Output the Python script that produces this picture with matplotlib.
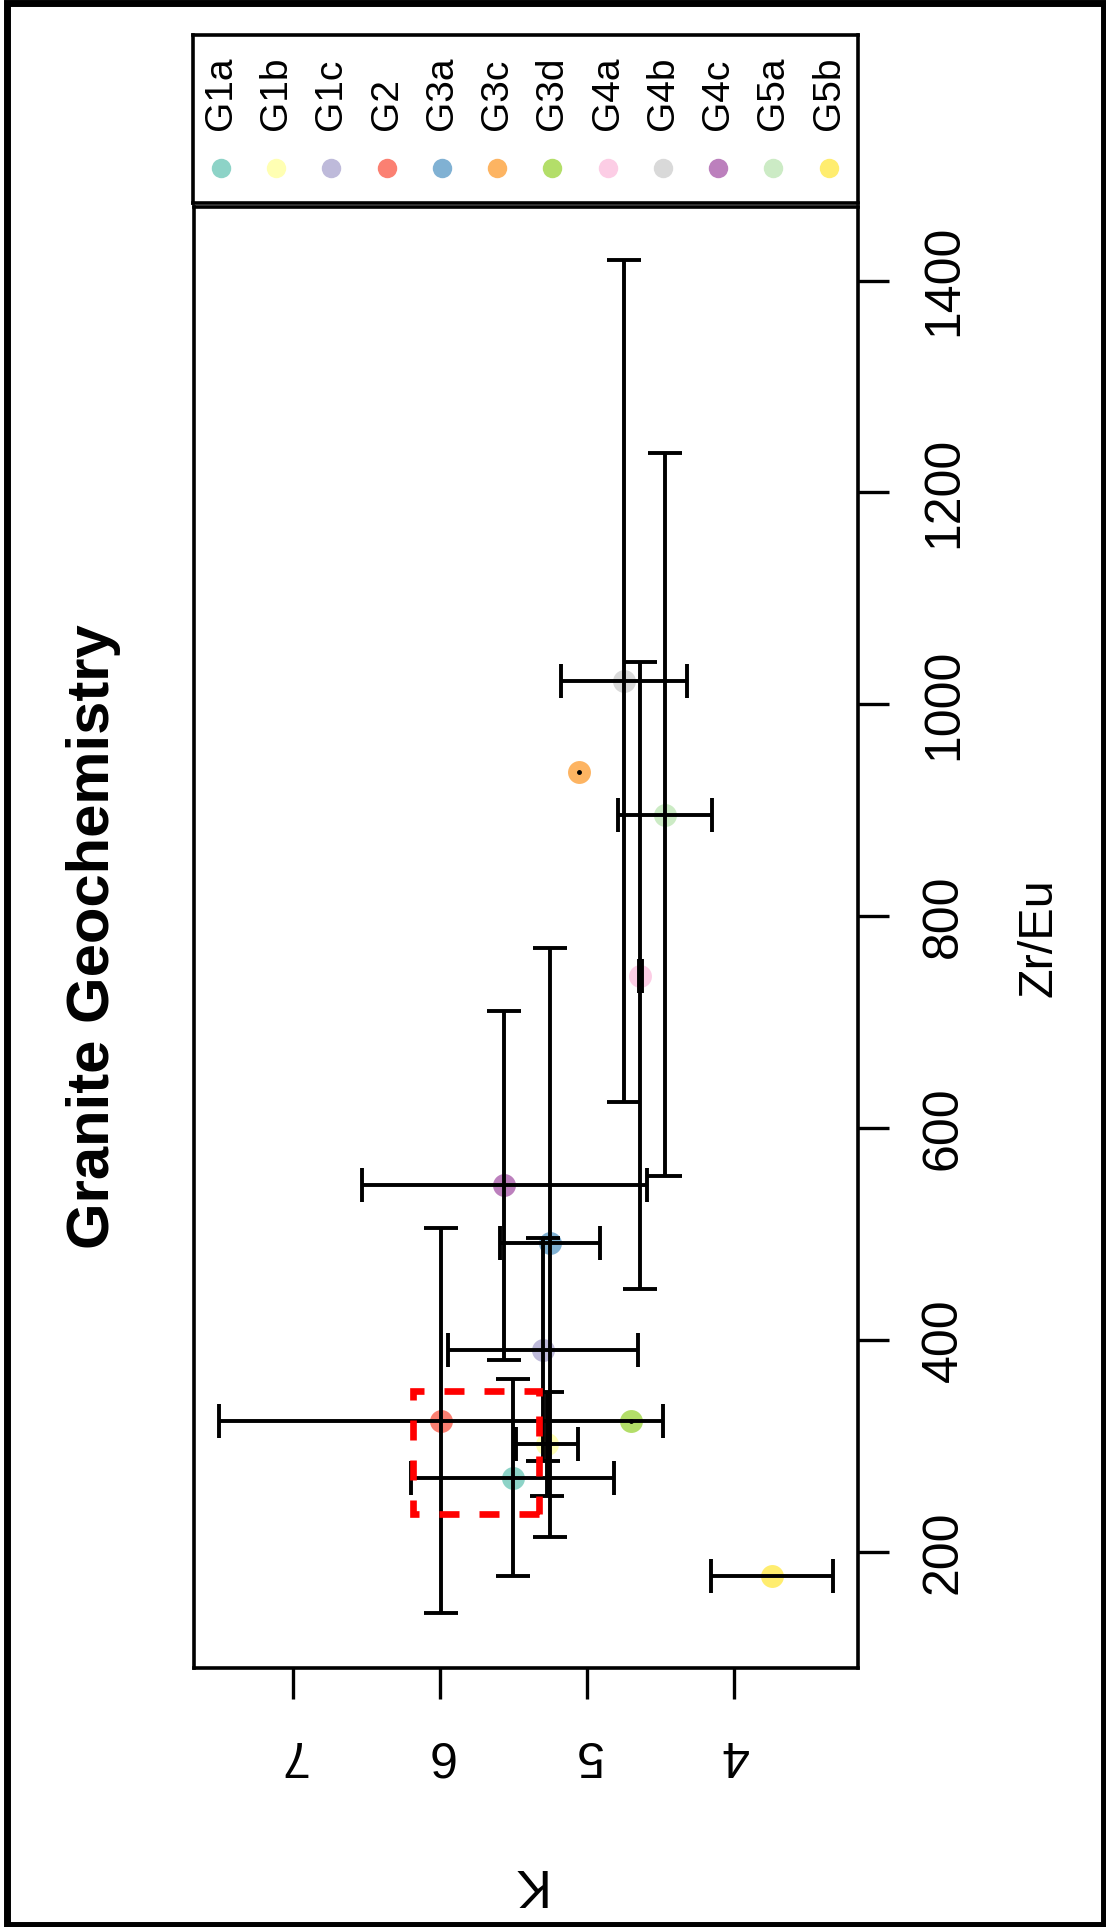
import matplotlib
matplotlib.use('Agg')
import matplotlib.pyplot as plt
from matplotlib.patches import Rectangle

plt.rcParams['font.family'] = ['Liberation Sans', 'DejaVu Sans']

# groups and Set3 colours
groups = ['G1a', 'G1b', 'G1c', 'G2', 'G3a', 'G3c', 'G3d', 'G4a', 'G4b', 'G4c', 'G5a', 'G5b']
colors = ['#8DD3C7', '#FFFFB3', '#BEBADA', '#FB8072', '#80B1D3', '#FDB462',
          '#B3DE69', '#FCCDE5', '#D9D9D9', '#BC80BD', '#CCEBC5', '#FFED6F']

# K (horizontal, reversed) and Zr/Eu (vertical) means with errors
k_vals = [5.505, 5.274, 5.297, 5.995, 5.252, 5.052, 4.703, 4.637, 4.748, 5.563, 4.471, 3.740]
zr_vals = [270, 302, 391, 324, 492, 936, 324, 744, 1022, 546, 896, 177]
k_err = [0.69, 0.21, 0.645, 1.51, 0.34, 0.0, 0.0, 0.01, 0.43, 0.97, 0.32, 0.417]
zr_err = [93, 49, 105, 182, 278, 0, 0, 296, 397, 165, 341, 0]

# highlighted box (K range, Zr/Eu range)
box_k = [5.324, 6.186]
box_zr = [235.9, 352.2]

W, H = 1106, 1927
fig = plt.figure(figsize=(W / 100, H / 100), dpi=100)

ax = fig.add_axes([194 / W, (H - 1668) / H, 664 / W, 1461 / H])
for i in range(len(groups)):
    ax.plot(k_vals[i], zr_vals[i], 'o', ms=16.5, color=colors[i], mec='none', zorder=2)
    xe = k_err[i] if k_err[i] > 0 else None
    ye = zr_err[i] if zr_err[i] > 0 else None
    if xe is None and ye is None:
        ax.plot(k_vals[i], zr_vals[i], 'o', ms=2.5, color='black', zorder=3)
    else:
        ax.errorbar(k_vals[i], zr_vals[i], xerr=xe, yerr=ye, fmt='none', ecolor='black',
                    elinewidth=2.8, capsize=12, capthick=2.8, zorder=3)

ax.add_patch(Rectangle((box_k[0], box_zr[0]), box_k[1] - box_k[0], box_zr[1] - box_zr[0],
                       fill=False, edgecolor='red', lw=4.8, linestyle=(0, (3, 3)), zorder=4))

ax.set_xlim(7.673, 3.156)
ax.set_ylim(90.5, 1469.4)
ax.set_xticks([4, 5, 6, 7])
ax.set_yticks(range(200, 1401, 200))
ax.yaxis.tick_right()
ax.tick_params(axis='both', direction='out', length=22.3, width=2.4, labelsize=36, pad=23)
ax.tick_params(axis='x', labelrotation=180)
ax.tick_params(axis='y', labelrotation=90)
plt.setp(ax.get_yticklabels(), va='center')
for s in ax.spines.values():
    s.set_linewidth(2.6)

ax.set_xlabel('K', fontsize=38, rotation=180)
ax.xaxis.set_label_coords(0.5, -(1883 - 1668) / 1461)
ax.xaxis.label.set_va('center')
ax.yaxis.set_label_position('right')
ax.set_ylabel('Zr/Eu', fontsize=35, rotation=90)
ax.yaxis.set_label_coords((1039 - 194) / 664, 0.5)
ax.yaxis.label.set_va('center')
ax.yaxis.label.set_ha('center')

# legend strip on top
lax = fig.add_axes([193 / W, (H - 203) / H, 665 / W, 168 / H])
lax.set_xlim(-0.507, 11.534)
lax.set_ylim(0, 1)
lax.set_xticks([])
lax.set_yticks([])
for s in lax.spines.values():
    s.set_linewidth(2.6)
for i, g in enumerate(groups):
    lax.plot(i, 0.208, 'o', ms=14, color=colors[i], mec='none')
    lax.text(i, 0.4345, g, rotation=90, ha='center', va='bottom', fontsize=28)

fig.text(94 / W, 1 - 937 / H, 'Granite Geochemistry', rotation=90, ha='center', va='center',
         fontsize=43, fontweight='bold')

# outer frame
fig.patches.append(Rectangle((6.5 / W, 2.5 / H), 1097.5 / W, 1921.5 / H, transform=fig.transFigure,
                             fill=False, edgecolor='black', lw=5))

fig.savefig('out.png', dpi=100)
